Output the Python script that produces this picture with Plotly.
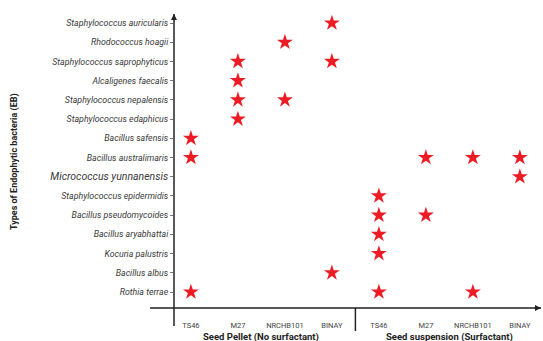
import plotly.graph_objects as go

# Columns (treatment x strain)
col_keys = ["P_TS46", "P_M27", "P_NRCHB101", "P_BINAY",
            "S_TS46", "S_M27", "S_NRCHB101", "S_BINAY"]
col_labels = ["TS46", "M27", "NRCHB101", "BINAY", "TS46", "M27", "NRCHB101", "BINAY"]
groups = ["Seed Pellet (No surfactant)", "Seed suspension (Surfactant)"]

# Species, bottom to top
species = ["Rothia terrae", "Bacillus albus", "Kocuria palustris", "Bacillus aryabhattai",
           "Bacillus pseudomycoides", "Staphylococcus epidermidis", "Micrococcus yunnanensis",
           "Bacillus australimaris", "Bacillus safensis", "Staphylococcus edaphicus",
           "Staphylococcus nepalensis", "Alcaligenes faecalis", "Staphylococcus saprophyticus",
           "Rhodococcus hoagii", "Staphylococcus auricularis"]

# Presence records (species, column)
hit_species = ["Staphylococcus auricularis",
               "Rhodococcus hoagii",
               "Staphylococcus saprophyticus", "Staphylococcus saprophyticus",
               "Alcaligenes faecalis",
               "Staphylococcus nepalensis", "Staphylococcus nepalensis",
               "Staphylococcus edaphicus",
               "Bacillus safensis",
               "Bacillus australimaris", "Bacillus australimaris", "Bacillus australimaris", "Bacillus australimaris",
               "Micrococcus yunnanensis",
               "Staphylococcus epidermidis",
               "Bacillus pseudomycoides", "Bacillus pseudomycoides",
               "Bacillus aryabhattai",
               "Kocuria palustris",
               "Bacillus albus",
               "Rothia terrae", "Rothia terrae", "Rothia terrae"]
hit_cols = ["P_BINAY",
            "P_NRCHB101",
            "P_M27", "P_BINAY",
            "P_M27",
            "P_M27", "P_NRCHB101",
            "P_M27",
            "P_TS46",
            "P_TS46", "S_M27", "S_NRCHB101", "S_BINAY",
            "S_BINAY",
            "S_TS46",
            "S_TS46", "S_M27",
            "S_TS46",
            "S_TS46",
            "P_BINAY",
            "P_TS46", "S_TS46", "S_NRCHB101"]

W, H = 543, 341
ml, mr, mt, mb = 174, 2, 14, 33
pw, ph = W - ml - mr, H - mt - mb

def px_x(p):
    return (p - ml) / pw

def px_y(p):
    return (H - mb - p) / ph

fig = go.Figure()
fig.add_trace(go.Scatter(
    x=hit_cols, y=hit_species, mode="markers",
    marker=dict(symbol="star", size=12, color="#ed1c24", line=dict(width=0)),
    hoverinfo="skip", showlegend=False,
))

ticktext = []
for s in species:
    if s == "Micrococcus yunnanensis":
        ticktext.append(f"<span style='font-size:10.5px'>{s}</span>")
    else:
        ticktext.append(s)

fig.update_layout(
    width=W, height=H,
    margin=dict(l=ml, r=mr, t=mt, b=mb, pad=0),
    paper_bgcolor="white", plot_bgcolor="white",
    font=dict(family="Roboto", color="#3a3a3a"),
    xaxis=dict(
        type="category", categoryorder="array", categoryarray=col_keys,
        tickvals=col_keys, ticktext=col_labels, tickangle=0,
        range=[-0.36, 7.45], showgrid=False, zeroline=False, showline=False,
        ticks="outside", ticklen=10, tickcolor="rgba(0,0,0,0)",
        tickfont=dict(family="Roboto", size=7.5, color="#444"),
    ),
    yaxis=dict(
        type="category", categoryorder="array", categoryarray=species,
        tickvals=species, ticktext=ticktext,
        range=[-0.83, 14.47], showgrid=False, zeroline=False, showline=False,
        ticks="outside", ticklen=3, tickcolor="#777", tickwidth=1,
        tickfont=dict(family="Roboto", size=8.8, color="#3a3a3a", style="italic"),
    ),
)

# Axis lines (crossing) with arrows
fig.add_shape(type="line", xref="paper", yref="paper",
              x0=0, x1=0, y0=px_y(326), y1=1, line=dict(color="#222", width=1.5))
fig.add_shape(type="line", xref="paper", yref="paper",
              x0=px_x(150), x1=1, y0=0, y1=0, line=dict(color="#222", width=1.5))
fig.add_annotation(xref="paper", yref="paper", x=0, y=1.0, ax=0, ay=8,
                   showarrow=True, arrowhead=2, arrowsize=0.8, arrowwidth=1.5,
                   arrowcolor="#222", text="")
fig.add_annotation(xref="paper", yref="paper", x=1.0, y=0, ax=-8, ay=0,
                   showarrow=True, arrowhead=2, arrowsize=0.8, arrowwidth=1.5,
                   arrowcolor="#222", text="")

# Group separator
fig.add_shape(type="line", xref="x", yref="paper",
              x0=3.5, x1=3.5, y0=0, y1=px_y(331), line=dict(color="#222", width=1.5))

# Group titles
for i, g in enumerate(groups):
    fig.add_annotation(xref="x", yref="paper", x=1.5 + 4 * i, y=px_y(337),
                       xanchor="center", yanchor="middle",
                       text=f"<b>{g}</b>", showarrow=False,
                       font=dict(family="Roboto", size=9.5, color="#222"))

# Y title
fig.add_annotation(xref="paper", yref="paper", x=px_x(14), y=px_y(162),
                   xanchor="center", yanchor="middle",
                   text="<b>Types of Endophytic bacteria (EB)</b>", textangle=-90,
                   showarrow=False, font=dict(family="Roboto", size=9, color="#222"))

fig.write_html("out.html")
